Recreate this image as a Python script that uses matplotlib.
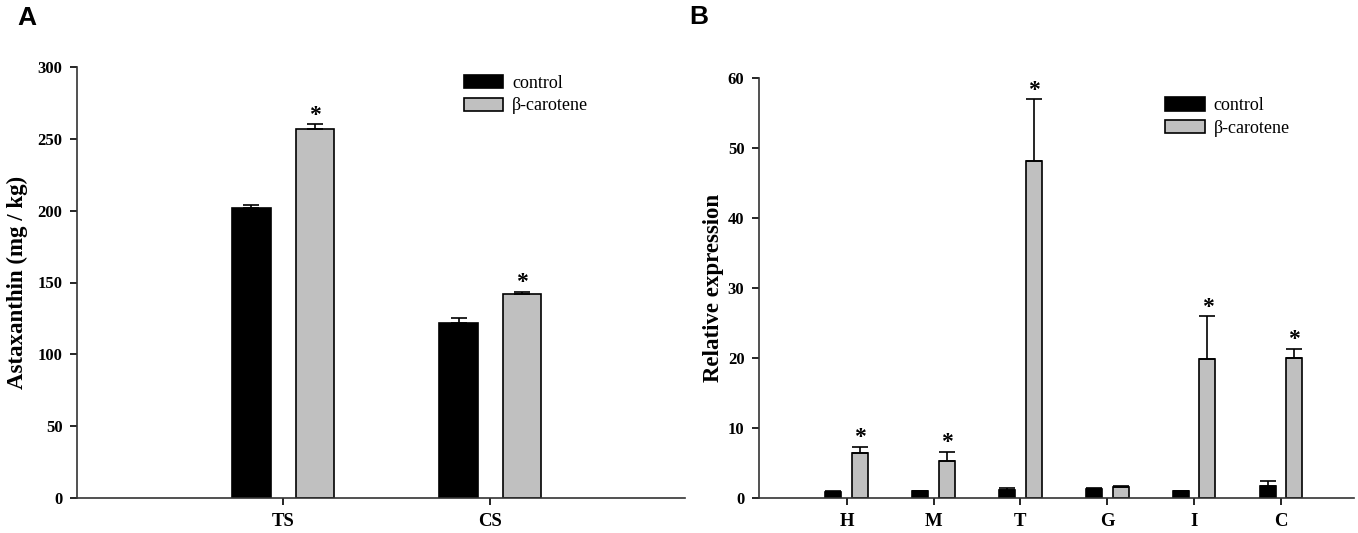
import matplotlib
matplotlib.use('Agg')
import matplotlib.pyplot as plt
import numpy as np

# Panel A data
a_labels = ['TS', 'CS']
a_control = [202, 122]
a_control_err = [2, 3]
a_beta = [256.5, 142]
a_beta_err = [3.5, 1.5]
a_sig = [True, True]

# Panel B data
b_labels = ['H', 'M', 'T', 'G', 'I', 'C']
b_control = [0.9, 1.0, 1.2, 1.3, 1.0, 1.65]
b_control_err = [0.05, 0.05, 0.2, 0.2, 0.05, 0.75]
b_beta = [6.4, 5.3, 48.2, 1.6, 19.9, 20.0]
b_beta_err = [0.9, 1.3, 8.8, 0.1, 6.1, 1.3]
b_sig = [True, True, True, False, True, True]

serif = ['Liberation Serif', 'DejaVu Serif']
sans = ['Liberation Sans', 'DejaVu Sans']
bar_w = 0.185
off = 0.153


def draw_panel(ax, labels, control, control_err, beta, beta_err, sig,
               ylim, yticks, ylabel, xlim, leg_anchor):
    x = np.arange(len(labels))
    ax.bar(x - off, control, bar_w, color='black', edgecolor='black',
           linewidth=1.2, label='control')
    ax.bar(x + off, beta, bar_w, color='#c0c0c0', edgecolor='black',
           linewidth=1.2, label='β-carotene')
    ax.errorbar(x - off, control, yerr=[np.zeros(len(x)), control_err], fmt='none',
                ecolor='black', elinewidth=1.2, capsize=6, capthick=1.2)
    ax.errorbar(x + off, beta, yerr=[np.zeros(len(x)), beta_err], fmt='none',
                ecolor='black', elinewidth=1.2, capsize=6, capthick=1.2)
    # significance stars
    for i in range(len(x)):
        if sig[i]:
            ax.annotate('*', (x[i] + off, beta[i] + beta_err[i]), xytext=(0, 2.5),
                        textcoords='offset points', ha='center', va='baseline',
                        fontsize=17, fontweight='bold', family=serif)
    ax.set_xlim(*xlim)
    ax.set_ylim(*ylim)
    ax.set_yticks(yticks)
    ax.set_xticks(x)
    ax.set_xticklabels(labels)
    for t in ax.get_yticklabels():
        t.set_family(serif)
        t.set_fontweight('bold')
        t.set_fontsize(12)
    for t in ax.get_xticklabels():
        t.set_family(serif)
        t.set_fontweight('bold')
        t.set_fontsize(13.5)
    ax.tick_params(axis='y', direction='out', length=5, width=1.2, pad=5.5)
    ax.tick_params(axis='x', direction='out', length=5, width=1.2, pad=6)
    ax.spines['top'].set_visible(False)
    ax.spines['right'].set_visible(False)
    for s in ('left', 'bottom'):
        ax.spines[s].set_color('#333333')
        ax.spines[s].set_linewidth(1.2)
    ax.set_ylabel(ylabel, family=serif, fontweight='bold', fontsize=16.5)
    ax.legend(loc='upper left', bbox_to_anchor=leg_anchor, frameon=False,
              prop={'family': serif, 'size': 13}, handlelength=2.2,
              handleheight=0.75, handletextpad=0.5, labelspacing=0.3)


fig = plt.figure(figsize=(13.58, 5.33), dpi=100)
ax1 = fig.add_axes([77 / 1358, 35 / 533, 608 / 1358, 431 / 533])
ax2 = fig.add_axes([759 / 1358, 35 / 533, 595 / 1358, 420 / 533])

draw_panel(ax1, a_labels, a_control, a_control_err, a_beta, a_beta_err, a_sig,
           (0, 300), np.arange(0, 301, 50), 'Astaxanthin (mg / kg)',
           (-0.995, 1.94), (0.609, 1.019))
draw_panel(ax2, b_labels, b_control, b_control_err, b_beta, b_beta_err, b_sig,
           (0, 60), np.arange(0, 61, 10), 'Relative expression',
           (-1.01, 5.84), (0.655, 0.993))

ax1.yaxis.labelpad = 7
ax2.yaxis.labelpad = 3

fig.text(17 / 1358, 1 - 18 / 533, 'A', family=sans,
         fontweight='bold', fontsize=19, va='center')
fig.text(689 / 1358, 1 - 17 / 533, 'B', family=sans,
         fontweight='bold', fontsize=19, va='center')

fig.savefig('out.png', dpi=100)
